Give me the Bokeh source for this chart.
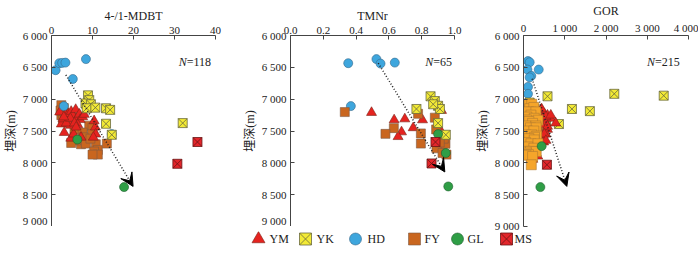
from bokeh.plotting import figure
from bokeh.models import Range1d, FixedTicker, Arrow, VeeHead, Label
from bokeh.layouts import row, column
from bokeh.embed import file_html
from bokeh.resources import INLINE
from bokeh.core.properties import value

# ---------------- data ----------------
y_ticks = [6000, 6500, 7000, 7500, 8000, 8500, 9000]
y_tick_labels = ["6 000", "6 500", "7 000", "7 500", "8 000", "8 500", "9 000"]

x1_ticks = [0, 10, 20, 30, 40]
x1_labels = ["0", "10", "20", "30", "40"]
x2_ticks = [0, 0.2, 0.4, 0.6, 0.8, 1.0]
x2_labels = ["0.0", "0.2", "0.4", "0.6", "0.8", "1.0"]
x3_ticks = [0, 1000, 2000, 3000, 4000]
x3_labels = ["0", "1 000", "2 000", "3 000", "4 000"]

panel_titles = ["4-/1-MDBT", "TMNr", "GOR"]
panel_counts = ["=118", "=65", "=215"]
y_title = "埋深(m)"

categories = ["YM", "YK", "HD", "FY", "GL", "MS"]

# Panel 1: 4-/1-MDBT
p1_HD_x = [1.0, 1.9, 2.6, 3.4, 8.4, 5.2, 3.0, 14.7]
p1_HD_y = [6545, 6435, 6430, 6426, 6371, 6683, 7109, 7549]
p1_YK_x = [8.9, 9.2, 8.3, 9.6, 8.6, 10.7, 13.3, 14.3, 13.3, 14.7, 32.0]
p1_YK_y = [6940, 7015, 7069, 7080, 7143, 7133, 7143, 7168, 7386, 7559, 7376]
p1_YM_x = [2.4, 2.8, 3.4, 4.1, 4.8, 5.2, 5.9, 6.2, 6.8, 7.0, 6.4, 4.6, 3.6, 4.6,
           5.6, 10.4, 10.7, 10.8, 3.1, 4.7, 5.4, 7.6, 2.0, 10.2, 7.2, 3.0, 8.0, 6.0]
p1_YM_y = [7391, 7311, 7242, 7228, 7193, 7252, 7163, 7302, 7237, 7322, 7400, 7411, 7376, 7302,
           7376, 7341, 7440, 7549, 7525, 7614, 7549, 7277, 7203, 7599, 7599, 7280, 7240, 7440]
p1_FY_x = [2.4, 2.2, 2.4, 2.8, 5.6, 9.2, 10.0, 9.9, 7.6, 7.8, 7.2, 6.0, 8.4, 4.8,
           10.8, 11.3, 10.4, 11.3, 10.0, 13.5, 3.0, 9.5]
p1_FY_y = [7094, 7178, 7252, 7326, 7475, 7416, 7450, 7549, 7525, 7599, 7708, 7649, 7698, 7688,
           7708, 7797, 7822, 7871, 7871, 7698, 7140, 7620]
p1_GL_x = [6.3, 17.7]
p1_GL_y = [7634, 8381]
p1_MS_x = [30.7, 35.6]
p1_MS_y = [8015, 7673]

# Panel 2: TMNr
p2_HD_x = [0.352, 0.524, 0.549, 0.636, 0.368]
p2_HD_y = [6435, 6371, 6441, 6426, 7109]
p2_YK_x = [0.854, 0.880, 0.900, 0.911, 0.768, 0.900, 0.947, 0.870]
p2_YK_y = [6955, 7030, 7104, 7154, 7154, 7376, 7559, 7080]
p2_YM_x = [0.494, 0.632, 0.697, 0.805, 0.748, 0.677, 0.656, 0.915, 0.921]
p2_YM_y = [7210, 7326, 7311, 7326, 7450, 7515, 7589, 7490, 7178]
p2_FY_x = [0.331, 0.630, 0.579, 0.778, 0.795, 0.795, 0.880, 0.888, 0.910, 0.945,
           0.890, 0.927, 0.951, 0.935, 0.910]
p2_FY_y = [7203, 7455, 7545, 7230, 7538, 7698, 7290, 7475, 7723, 7700,
           7772, 7846, 7871, 7620, 7680]
p2_GL_x = [0.900, 0.947, 0.962]
p2_GL_y = [7549, 7846, 8371]
p2_MS_x = [0.860, 0.884]
p2_MS_y = [8010, 7673]

# Panel 3: GOR
p3_HD_x = [109, 150, 95, 369, 189, 149, 109, 109, 71]
p3_HD_y = [6401, 6420, 6535, 6535, 6634, 6658, 6807, 6916, 7154]
p3_YK_x = [582, 2201, 3399, 1174, 1609, 859, 544, 149, 267]
p3_YK_y = [6955, 6916, 6945, 7154, 7188, 7391, 7416, 7054, 7154]
p3_YM_x = [426, 504, 582, 662, 464, 362, 781, 544, 426, 582, 544, 464, 426, 488, 31,
           308, 346, 227, 71, 31, 386, 582, 440, 544, 662, 504, 544, 189, 31, 100]
p3_YM_y = [7163, 7228, 7252, 7302, 7302, 7292, 7376, 7376, 7401, 7475, 7549, 7599, 7649, 7673, 7500,
           7846, 7896, 7945, 7426, 7252, 7500, 7426, 7154, 7277, 7252, 7549, 7649, 7945, 7600, 7650]
p3_FY_x = [133, 200, 150, 250, 189, 120, 300, 180, 80, 260, 71, 350, 130, 220, 60, 300,
           170, 308, 100, 250, 60, 200, 320, 267, 130, 260, 50, 180, 350, 100, 250, 50,
           170, 308, 71, 120, 60, 220, 189]
p3_FY_y = [7079, 7080, 7150, 7130, 7203, 7200, 7200, 7250, 7280, 7300, 7326, 7330, 7350, 7380, 7420, 7420,
           7450, 7450, 7500, 7500, 7560, 7560, 7580, 7599, 7620, 7640, 7680, 7700, 7700, 7750, 7770, 7820,
           7820, 7822, 7846, 7870, 7880, 7900, 8030]
p3_GL_x = [440, 409]
p3_GL_y = [7738, 8381]
p3_MS_x = [568]
p3_MS_y = [8030]

# trend arrows (start -> end) per panel
trend_x = [[3.5, 19.9], [0.535, 0.941], [210, 1050]]
trend_y = [[6620, 8370], [6435, 8143], [6680, 8370]]
# N label anchors
count_x = [33.0, 0.87, 3186]
count_y = [6416, 6416, 6416]

# ---------------- styles ----------------
SERIF = "Liberation Serif"
LABEL_FONT = "Liberation Serif, Noto Sans CJK SC"
STY = {
    "YM": dict(marker="triangle", size=10, fill_color="#e5231f", line_color="#7a2418", line_width=0.6),
    "YK": dict(marker="square_x", size=9, fill_color="#f3ea35", line_color="#6a6a40", line_width=0.8),
    "HD": dict(marker="circle", size=9, fill_color="#3ea6dd", line_color="#35688a", line_width=0.6),
    "FY": dict(marker="square", size=9, fill_color="#c9661f", line_color="#7d5a45", line_width=0.6),
    "FY3": dict(marker="square", size=10, fill_color="#f5a52a", line_color="#b07a30", line_width=0.6),
    "GL": dict(marker="circle", size=9, fill_color="#2f9e46", line_color="#1f5e2d", line_width=0.6),
    "MS": dict(marker="square_x", size=9, fill_color="#e3262b", line_color="#6a1515", line_width=0.8),
}

TOP = 30
FH = 191
BOT = 5
LEG_H = 241 - (TOP + FH + BOT)


def make_panel(xr, ticks, labels, title, left, fw, right):
    p = figure(frame_width=fw, frame_height=FH, x_range=Range1d(*xr),
               y_range=Range1d(9000, 6000), x_axis_location="above",
               output_backend="svg", toolbar_location=None,
               min_border_left=left, min_border_right=right,
               min_border_top=TOP, min_border_bottom=BOT)
    p.outline_line_color = None
    p.xgrid.visible = False
    p.ygrid.visible = False
    p.background_fill_color = "white"
    p.border_fill_color = "white"
    xa = p.xaxis[0]
    xa.ticker = FixedTicker(ticks=ticks)
    xa.major_label_overrides = {t: l for t, l in zip(ticks, labels)}
    xa.axis_label = title
    ya = p.yaxis[0]
    ya.ticker = FixedTicker(ticks=y_ticks)
    ya.major_label_overrides = {t: l for t, l in zip(y_ticks, y_tick_labels)}
    ya.axis_label = y_title
    for ax in (xa, ya):
        ax.major_tick_in = 4
        ax.major_tick_out = 0
        ax.minor_tick_line_color = None
        ax.axis_line_color = "#444444"
        ax.major_tick_line_color = "#444444"
        ax.major_label_text_font = SERIF
        ax.major_label_text_font_size = "11px"
        ax.major_label_text_color = "#222222"
        ax.axis_label_text_font_size = "12px"
        ax.axis_label_text_font_style = "normal"
        ax.axis_label_text_color = "#222222"
    xa.axis_label_text_font = SERIF
    xa.major_label_standoff = 2
    xa.axis_label_standoff = 1
    ya.axis_label_text_font = LABEL_FONT
    ya.major_label_standoff = 4
    ya.axis_label_standoff = 2
    return p


def add_pts(p, xs, ys, key):
    p.scatter(xs, ys, **STY[key])


def add_trend(p, i):
    p.add_layout(Arrow(end=VeeHead(size=13, fill_color="black", line_color="black", line_width=1),
                       x_start=trend_x[i][0], y_start=trend_y[i][0],
                       x_end=trend_x[i][1], y_end=trend_y[i][1],
                       line_dash="1 2", line_width=1.5, line_color="#222222"))


def add_count(p, i):
    p.add_layout(Label(x=count_x[i], y=count_y[i], text="N", text_font=SERIF,
                       text_font_style="italic", text_font_size="12px", text_align="right",
                       text_baseline="middle", text_color="#222222"))
    p.add_layout(Label(x=count_x[i], y=count_y[i], text=panel_counts[i], text_font=SERIF,
                       text_font_size="12px", text_align="left",
                       text_baseline="middle", text_color="#222222"))


p1 = make_panel((0, 40), x1_ticks, x1_labels, panel_titles[0], 40, 164, 24)
add_trend(p1, 0)
add_pts(p1, p1_FY_x, p1_FY_y, "FY")
add_pts(p1, p1_YM_x, p1_YM_y, "YM")
add_pts(p1, p1_HD_x, p1_HD_y, "HD")
add_pts(p1, p1_YK_x, p1_YK_y, "YK")
add_pts(p1, p1_GL_x, p1_GL_y, "GL")
add_pts(p1, p1_MS_x, p1_MS_y, "MS")
add_count(p1, 0)

p2 = make_panel((0, 1), x2_ticks, x2_labels, panel_titles[1], 48, 164, 18)
add_trend(p2, 1)
add_pts(p2, p2_HD_x, p2_HD_y, "HD")
add_pts(p2, p2_YM_x, p2_YM_y, "YM")
add_pts(p2, p2_FY_x, p2_FY_y, "FY")
add_pts(p2, p2_YK_x, p2_YK_y, "YK")
add_pts(p2, p2_GL_x, p2_GL_y, "GL")
add_pts(p2, p2_MS_x, p2_MS_y, "MS")
add_count(p2, 1)

p3 = make_panel((0, 4000), x3_ticks, x3_labels, panel_titles[2], 51, 165, 10)
add_trend(p3, 2)
add_pts(p3, p3_HD_x, p3_HD_y, "HD")
add_pts(p3, p3_YK_x, p3_YK_y, "YK")
add_pts(p3, p3_YM_x, p3_YM_y, "YM")
add_pts(p3, p3_FY_x, p3_FY_y, "FY3")
add_pts(p3, p3_GL_x, p3_GL_y, "GL")
add_pts(p3, p3_MS_x, p3_MS_y, "MS")
add_count(p3, 2)

# ---------------- legend strip ----------------
LEG_W = 684
leg_glyph_x = [258, 305, 355, 414, 457, 506]
leg_text_x = [269, 316, 367, 424, 467, 514]
pl = figure(width=LEG_W, height=LEG_H, x_range=Range1d(0, LEG_W), y_range=Range1d(0, LEG_H),
            output_backend="svg", toolbar_location=None, x_axis_type=None, y_axis_type=None,
            min_border=0)
pl.outline_line_color = None
pl.xgrid.visible = False
pl.ygrid.visible = False
for gx, tx, cat in zip(leg_glyph_x, leg_text_x, categories):
    st = dict(STY[cat])
    st["size"] = st["size"] + 3
    pl.scatter([gx], [LEG_H / 2], **st)
    pl.text([tx], [LEG_H / 2], text=[cat], text_font=value(SERIF), text_font_size="12px",
            text_baseline="middle", text_align="left", text_color="#222222")

layout = column(row(p1, p2, p3), pl)
open("out.html", "w").write(file_html(layout, INLINE))
